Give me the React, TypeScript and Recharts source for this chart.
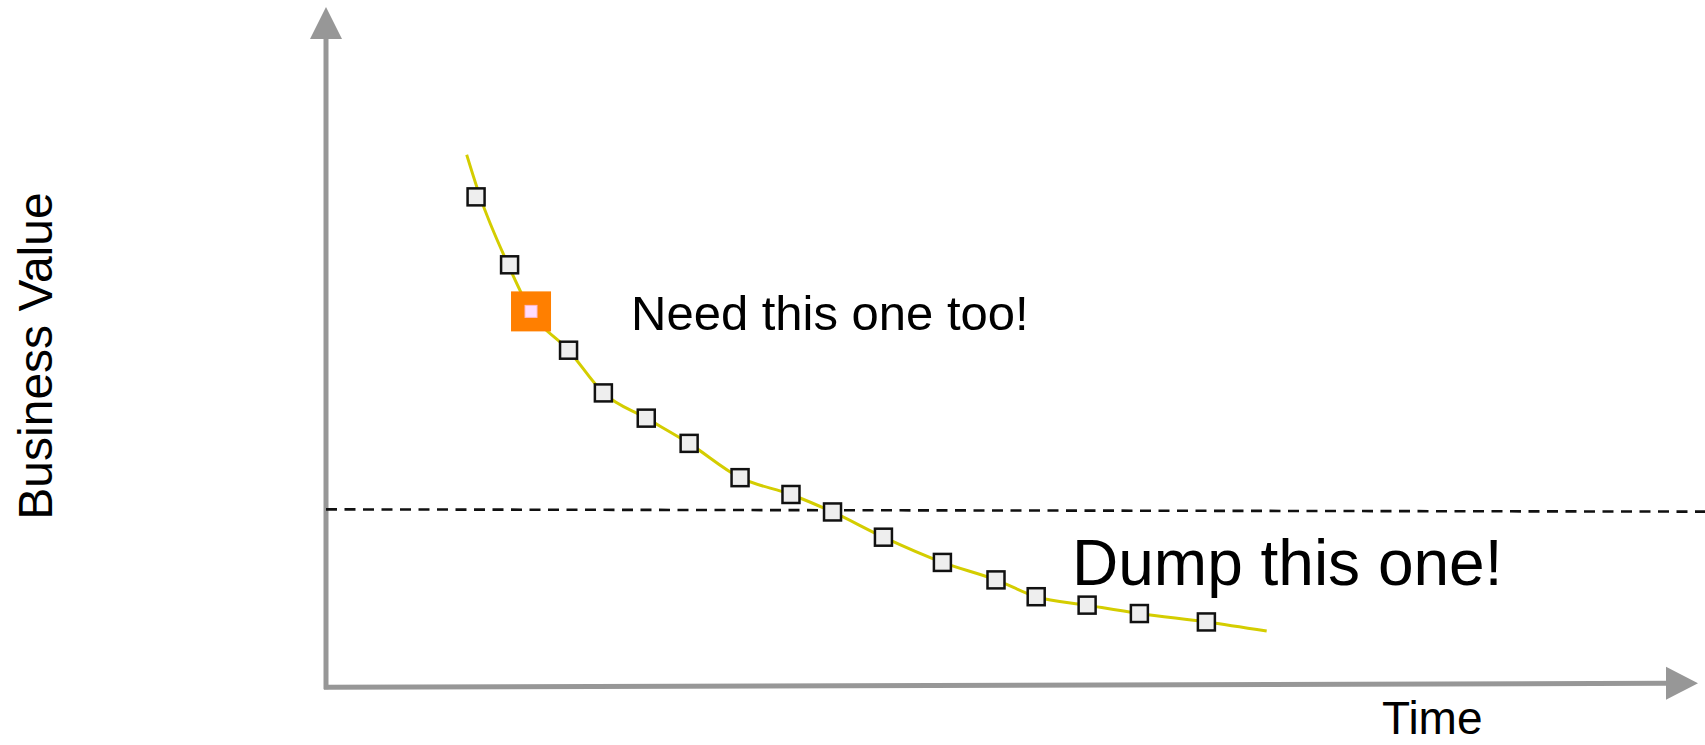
import React from 'react';
import {
  ComposedChart, Line, Scatter, XAxis, YAxis, ReferenceLine
} from 'recharts';

// every project as (time, business value); units are arbitrary 0-100
const projectTime = [11.2, 13.7, 18.1, 20.7, 23.9, 27.1, 30.9, 34.7, 37.8, 41.6, 46.0, 50.0, 53.0, 56.8, 60.7, 65.7];
const projectValue = [75.6, 65.1, 51.9, 45.3, 41.4, 37.5, 32.2, 29.6, 26.9, 23.0, 19.1, 16.4, 13.8, 12.5, 11.2, 9.9];

// the one we want to keep
const keepTime = [15.3];
const keepValue = [57.9];

// hand drawn trend curve the projects sit on
const trendTime = [10.5, 11.5, 13.6, 15.3, 18.1, 20.7, 23.9, 27.1, 30.9, 34.7, 37.8, 41.6, 46.0, 50.0, 53.0, 56.8, 60.7, 65.7, 70.2];
const trendValue = [82.1, 75.6, 65.1, 57.9, 51.9, 45.3, 41.4, 37.5, 32.2, 29.6, 26.9, 23.0, 19.1, 16.4, 13.8, 12.5, 11.2, 9.9, 8.5];

const threshold = 27.3;

const projects = projectTime.map((t, i) => ({ t, v: projectValue[i] }));
const keep = keepTime.map((t, i) => ({ t, v: keepValue[i] }));
const trend = trendTime.map((t, i) => ({ t, v: trendValue[i] }));

const AXIS = '#979797';
const FONT = '"Liberation Sans", Arial, sans-serif';

const SquareDot = (props: any) => {
  const { cx, cy } = props;
  return <rect x={cx - 8.5} y={cy - 8.5} width={17} height={17} fill="#eeeeee" stroke="#111" strokeWidth={2.5} />;
};

const KeepDot = (props: any) => {
  const { cx, cy } = props;
  return (
    <g>
      <rect x={cx - 20} y={cy - 20} width={40} height={40} fill="#ff7f00" />
      <rect x={cx - 6} y={cy - 6} width={12} height={12} fill="#ffdcff" stroke="#ffb8c8" strokeWidth={1} />
    </g>
  );
};

const YArrow = (props: any) => {
  const { x1, y1, x2, y2 } = props;
  const top = Math.min(y1, y2);
  return (
    <g>
      <line x1={x1} y1={Math.max(y1, y2) + 2} x2={x2} y2={top} stroke={AXIS} strokeWidth={5} />
      <polygon points={`${x2 - 16},${top} ${x2 + 16},${top} ${x2},${top - 32}`} fill={AXIS} />
    </g>
  );
};

const XArrow = (props: any) => {
  const { x1, y1, x2, y2 } = props;
  return (
    <g>
      <line x1={x1 - 2} y1={y1} x2={x2} y2={y2} stroke={AXIS} strokeWidth={5} />
      <polygon points={`${x2},${y2 - 16.5} ${x2},${y2 + 16.5} ${x2 + 32},${y2}`} fill={AXIS} />
    </g>
  );
};

export default function App() {
  return (
    <div style={{ position: 'absolute', left: 0, top: 0, background: '#fff' }}>
      <ComposedChart width={1705} height={745} margin={{ top: 39, right: 39, left: 326, bottom: 59 }}>
        <XAxis type="number" dataKey="t" domain={[0, 100]} hide />
        <YAxis type="number" dataKey="v" domain={[0, 100]} hide />
        <ReferenceLine
          segment={[{ x: 0, y: -0.2 }, { x: 0, y: 100 }]}
          ifOverflow="visible"
          shape={YArrow}
        />
        <ReferenceLine
          segment={[{ x: 0, y: -0.2 }, { x: 100, y: 0.42 }]}
          ifOverflow="visible"
          shape={XArrow}
        />
        <ReferenceLine
          segment={[{ x: 0, y: threshold }, { x: 103, y: threshold - 0.35 }]}
          ifOverflow="visible"
          stroke="#111"
          strokeWidth={2.6}
          strokeDasharray="11 7.5"
        />
        <Line
          data={trend}
          dataKey="v"
          type="monotone"
          stroke="#d4cd00"
          strokeWidth={3}
          dot={false}
          activeDot={false}
          isAnimationActive={false}
        />
        <Scatter data={projects} dataKey="v" shape={SquareDot} isAnimationActive={false} />
        <Scatter data={keep} dataKey="v" shape={KeepDot} isAnimationActive={false} />
        <text x={631} y={330} fontFamily={FONT} fontSize={49} fill="#000">Need this one too!</text>
        <text x={1072} y={585} fontFamily={FONT} fontSize={64} fill="#000">Dump this one!</text>
        <text x={1382} y={734} fontFamily={FONT} fontSize={46} fill="#000">Time</text>
        <text
          x={0}
          y={0}
          transform="translate(52, 356) rotate(-90)"
          textAnchor="middle"
          fontFamily={FONT}
          fontSize={48}
          fill="#000"
        >
          Business Value
        </text>
      </ComposedChart>
    </div>
  );
}
